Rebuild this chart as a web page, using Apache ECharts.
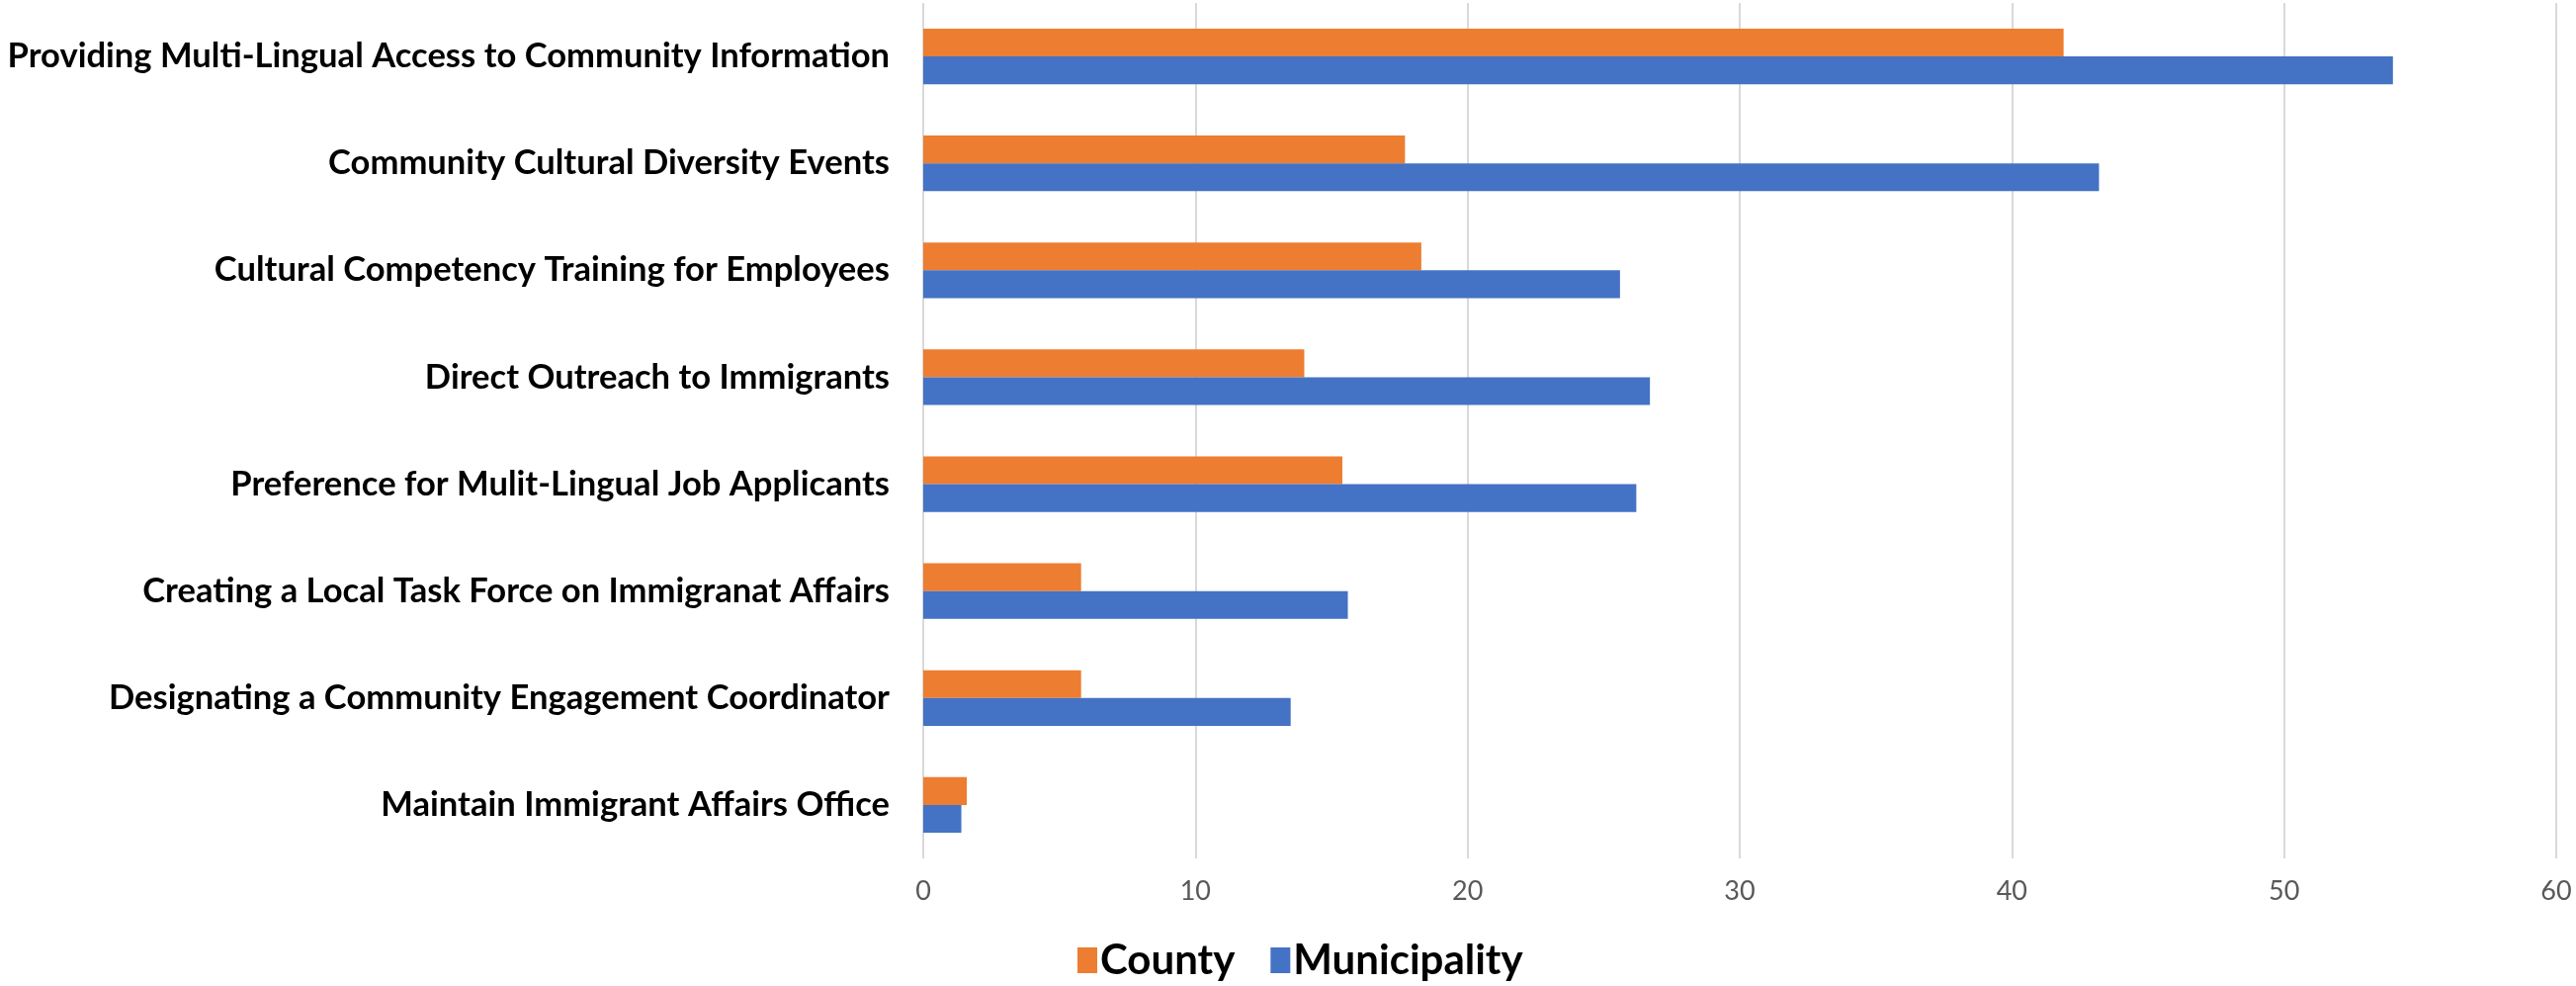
<!DOCTYPE html>
<html>
<head>
<meta charset="utf-8">
<script src="https://cdn.jsdelivr.net/npm/echarts@6/dist/echarts.min.js"></script>
<style>
html,body{margin:0;padding:0;background:#fff;}
#chart{width:2606px;height:997px;}
</style>
</head>
<body>
<div id="chart"></div>
<script>
const categories = [
  "Providing Multi-Lingual Access to Community Information",
  "Community Cultural Diversity Events",
  "Cultural Competency Training for Employees",
  "Direct Outreach to Immigrants",
  "Preference for Mulit-Lingual Job Applicants",
  "Creating a Local Task Force on Immigranat Affairs",
  "Designating a Community Engagement Coordinator",
  "Maintain Immigrant Affairs Office"
];
const countyValues = [41.9, 17.7, 18.3, 14.0, 15.4, 5.8, 5.8, 1.6];
const municipalityValues = [54.0, 43.2, 25.6, 26.7, 26.2, 15.6, 13.5, 1.4];
const seriesNames = ["County", "Municipality"];

const chart = echarts.init(document.getElementById('chart'));
const labelFont = "Lato, 'Open Sans', sans-serif";
chart.setOption({
  animation: false,
  backgroundColor: '#ffffff',
  grid: { left: 934, right: 20, top: 3, bottom: 129, containLabel: false, outerBoundsMode: 'none' },
  legend: {
    data: seriesNames,
    bottom: 0,
    left: 1085,
    itemWidth: 20,
    itemHeight: 26,
    itemGap: 36,
    icon: 'rect',
    textStyle: { fontFamily: labelFont, fontWeight: 'bold', fontSize: 42, color: '#000', padding: [0, 0, 0, -2] }
  },
  xAxis: {
    type: 'value',
    min: 0, max: 60, interval: 10,
    axisLine: { show: false },
    axisTick: { show: false },
    splitLine: { show: true, lineStyle: { color: '#D9D9D9', width: 2 } },
    axisLabel: { fontFamily: labelFont, fontSize: 27, color: '#595959', margin: 20 }
  },
  yAxis: {
    type: 'category',
    data: categories,
    inverse: true,
    axisLine: { show: false },
    axisTick: { show: false },
    axisLabel: { fontFamily: labelFont, fontWeight: 'bold', fontSize: 34.6, color: '#000', margin: 34 }
  },
  series: [
    { name: seriesNames[0], type: 'bar', data: countyValues, itemStyle: { color: '#ED7D31' }, barWidth: '26%', barGap: '0%' },
    { name: seriesNames[1], type: 'bar', data: municipalityValues, itemStyle: { color: '#4472C4' }, barWidth: '26%', barGap: '0%' }
  ]
});
</script>
</body>
</html>
